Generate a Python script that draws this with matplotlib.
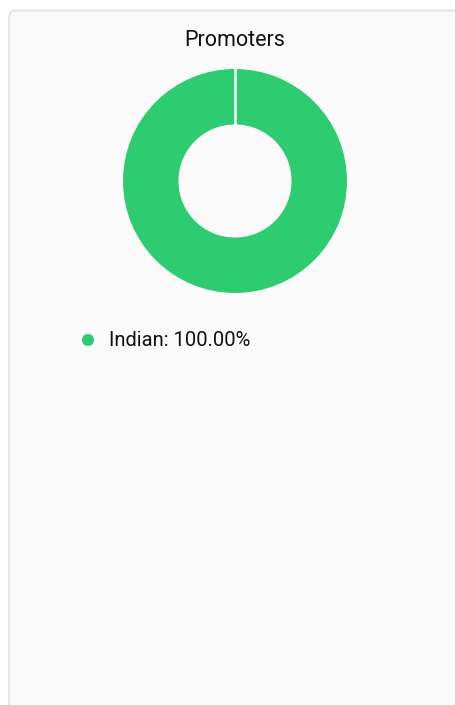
import matplotlib
matplotlib.use("Agg")
import matplotlib.pyplot as plt
from matplotlib.patches import FancyBboxPatch, Circle
import numpy as np

title = "Promoters"
categories = ["Indian"]
values = [100.00]
colors = ["#2ecc71"]

W, H = 455, 705
fig = plt.figure(figsize=(W / 100, H / 100), dpi=100)
fig.patch.set_facecolor("white")

bg = fig.add_axes([0, 0, 1, 1])
bg.set_xlim(0, W)
bg.set_ylim(H, 0)
bg.axis("off")

card = FancyBboxPatch((9, 10.5), 470, 720, boxstyle="round,pad=0,rounding_size=7",
                      facecolor="#fafafa", edgecolor="#e0e0e0", linewidth=1.2)
bg.add_patch(card)

bg.text(235, 40, title, ha="center", va="center", fontsize=15.5,
        family=["Roboto", "DejaVu Sans"], color="#111111")

# legend
total = sum(values)
for i, (c, v) in enumerate(zip(categories, values)):
    y = 340 + i * 26
    bg.add_patch(Circle((88, y), 6, facecolor=colors[i], edgecolor="none"))
    bg.text(109, y + 1, f"{c}: {v / total * 100:.2f}%", ha="left", va="center",
            fontsize=14.5, family=["Roboto", "DejaVu Sans"], color="#111111")

# donut
cx, cy, R = 235, 181, 112
pax = fig.add_axes([(cx - R) / W, 1 - (cy + R) / H, 2 * R / W, 2 * R / H])
pax.axis("off")
start = 90
wedges, _ = pax.pie(values, colors=colors, startangle=start, counterclock=False,
                    radius=1, wedgeprops=dict(width=0.495, edgecolor="none"))
# slice boundaries
ang = start
for v in values:
    a = np.deg2rad(ang)
    pax.plot([0.5 * np.cos(a), 1.02 * np.cos(a)], [0.5 * np.sin(a), 1.02 * np.sin(a)],
             color="white", lw=1.8, solid_capstyle="butt")
    ang -= v / total * 360
pax.set_xlim(-1, 1)
pax.set_ylim(-1, 1)

fig.savefig("out.png", dpi=100, facecolor="white")
